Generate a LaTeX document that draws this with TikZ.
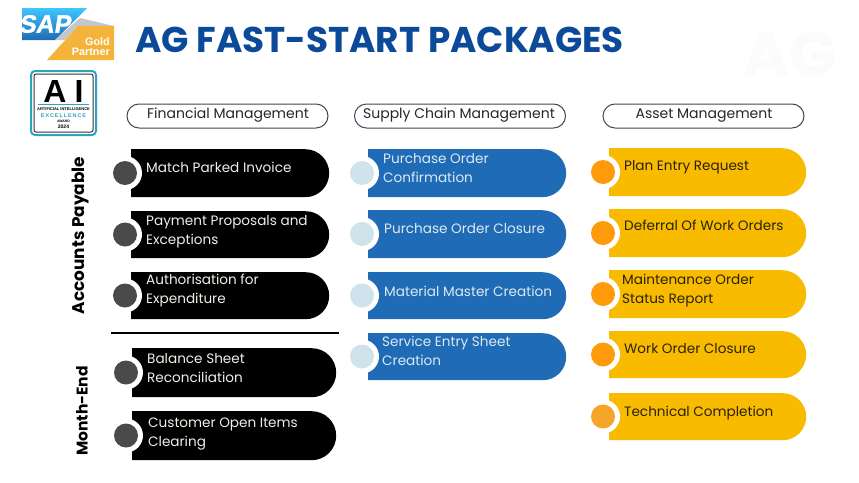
\documentclass[tikz,border=0pt]{standalone}
\usepackage{fontspec}
\usetikzlibrary{shapes.misc}
\setmainfont{Poppins}
\newfontfamily\arialf{Liberation Sans}
\newfontfamily\arialsp[LetterSpace=18]{Liberation Sans}
\newfontfamily\sapf[BoldFeatures={FakeBold=1.5}]{Liberation Sans}
\definecolor{titleblue}{HTML}{0B4A99}
\definecolor{pillblue}{HTML}{1F6BB5}
\definecolor{pillyellow}{HTML}{F8BB00}
\definecolor{dotgrey}{HTML}{4A4A4A}
\definecolor{dotpale}{HTML}{CFE3EC}
\definecolor{dotorange}{HTML}{FF9A0A}
\definecolor{dotlast}{HTML}{F5A62A}
\definecolor{lighttxt}{HTML}{F0EEE6}
\definecolor{bluetxt}{HTML}{DDE9F2}
\definecolor{yellowtxt}{HTML}{2A2208}
\definecolor{headedge}{HTML}{3C4A58}
\definecolor{badgecyan}{HTML}{2AA5C0}
\definecolor{sapgold}{HTML}{F4B43A}
\definecolor{sapgrey}{HTML}{C4C6CA}
\tikzset{
  pillshape/.style={rounded rectangle,rounded rectangle west arc=none,inner sep=0pt,anchor=north west},
  halo/.style={circle,fill=white,inner sep=0pt,minimum size=34pt},
  dotmark/.style={circle,inner sep=0pt,minimum size=24pt},
  itemtxt/.style={anchor=west,inner sep=0pt,align=left,font=\fontsize{13.6}{19}\selectfont},
  headbox/.style={rounded corners=12pt,draw=headedge,line width=1pt,fill=white,minimum height=24pt,inner sep=0pt},
  headtxt/.style={inner sep=0pt,font=\fontsize{14}{17}\selectfont,text=black!85},
  sidelabel/.style={rotate=90,inner sep=0pt,font=\bfseries\fontsize{15.5}{18}\selectfont},
  badgetxt/.style={inner sep=0pt,font=\arialf\bfseries\fontsize{4}{4.5}\selectfont},
}
\newcommand{\pill}[7]{% name, x1, y1, x2, y2, colour, dot
  \pgfmathsetmacro{\pw}{#4-#2}\pgfmathsetmacro{\ph}{#5-#3}
  \pgfmathsetmacro{\pm}{(#3+#5)/2}\pgfmathsetmacro{\pd}{#2-6}
  \node[pillshape,fill=#6,minimum width=\pw pt,minimum height=\ph pt] (#1) at (#2,#3) {};
  \node[halo] (#1h) at (\pd,\pm) {};
  \node[dotmark,fill=#7] (#1d) at (\pd,\pm) {};
}
\begin{document}
\begin{tikzpicture}[x=1pt,y=-1pt]
\fill[white] (0,0) rectangle (859,482);
\useasboundingbox (0,0) rectangle (859,482);

% watermark
\node[inner sep=0pt,text=black!1.5,font=\bfseries\fontsize{62}{62}\selectfont] (wm) at (790,55) {AG};

% SAP logo
\shade[top color=cyan!70!blue!75,bottom color=pillblue] (22,8) -- (87,8) -- (55,40) -- (22,40) -- cycle;
\fill[sapgrey] (55,40) -- (80,18) -- (114,26) -- (78,26) -- (65,40) -- cycle;
\fill[sapgold] (78,26) -- (114,26) -- (114,60) -- (47,60) -- cycle;
\node[inner sep=0pt,text=white,xslant=0.15,transform shape,font=\sapf\bfseries\fontsize{25}{25}\selectfont] (sap) at (46,24) {SAP};
\node[inner sep=0pt,anchor=east,text=white,font=\arialf\bfseries\fontsize{10.8}{11}\selectfont] (gold) at (110,41.5) {Gold};
\node[inner sep=0pt,anchor=east,text=white,font=\arialf\bfseries\fontsize{10.8}{11}\selectfont] (partner) at (110,52) {Partner};

% AI badge
\draw[badgecyan,line width=2pt,rounded corners=4pt] (31,71) rectangle (96,135);
\draw[black!80,line width=1pt,rounded corners=2pt] (34,74) rectangle (93,132);
\node[inner sep=0pt,font=\arialf\bfseries\fontsize{32}{32}\selectfont] (aia) at (55,91) {A};
\node[inner sep=0pt,font=\arialf\bfseries\fontsize{32}{32}\selectfont] (aii) at (79,91) {I};
\draw[badgecyan,line width=.7pt] (38,104.5) -- (89,104.5);
\node[badgetxt] (ai1) at (63.5,109) {ARTIFICIAL INTELLIGENCE};
\node[badgetxt,text=badgecyan,font=\arialsp\bfseries\fontsize{5.4}{6}\selectfont] (ai2) at (63.5,115.5) {EXCELLENCE};
\node[badgetxt,font=\arialf\bfseries\fontsize{3.4}{4}\selectfont] (ai3) at (63.5,121) {AWARD};
\node[badgetxt,font=\arialf\bfseries\fontsize{5}{6}\selectfont] (ai4) at (63.5,127) {2024};

% title
\node[anchor=west,inner sep=0pt,text=titleblue,font=\bfseries\fontsize{35.8}{40}\selectfont] (title) at (135,40) {AG FAST-START PACKAGES};

% headers
\node[headbox,minimum width=201pt] (h1) at (227.5,116) {};
\node[headtxt] (h1t) at (228,115.5) {Financial Management};
\node[headbox,minimum width=211pt] (h2) at (460,116) {};
\node[headtxt] (h2t) at (459,115) {Supply Chain Management};
\node[headbox,minimum width=201pt] (h3) at (703.5,116) {};
\node[headtxt] (h3t) at (704,115.5) {Asset Management};

% side labels
\node[sidelabel,font=\bfseries\fontsize{16.9}{18}\selectfont] (ap) at (80,235.5) {Accounts Payable};
\node[sidelabel] (me) at (82,411) {Month-End};
\coordinate (rulea) at (111,333);
\coordinate (ruleb) at (339,333);
\draw[black,line width=2pt] (rulea) -- (ruleb);

% black column
\pill{a1}{131}{149}{329}{197}{black}{dotgrey}
\pill{a2}{131}{211}{329}{258}{black}{dotgrey}
\pill{a3}{131}{272}{329}{319}{black}{dotgrey}
\pill{a4}{132}{348}{336}{397}{black}{dotgrey}
\pill{a5}{132}{411}{336}{460}{black}{dotgrey}
\node[itemtxt,text=lighttxt] (a1t) at (146,167) {Match Parked Invoice};
\node[itemtxt,text=lighttxt] (a2t) at (146,232) {Payment Proposals and\\Exceptions};
\node[itemtxt,text=lighttxt] (a3t) at (146,290.5) {Authorisation for\\Expenditure};
\node[itemtxt,text=lighttxt] (a4t) at (147,368.5) {Balance Sheet\\Reconciliation};
\node[itemtxt,text=lighttxt] (a5t) at (148,434.5) {Customer Open Items\\Clearing};

% blue column
\pill{b1}{368}{149}{566}{197}{pillblue}{dotpale}
\pill{b2}{368}{210}{566}{258}{pillblue}{dotpale}
\pill{b3}{368}{272}{566}{319}{pillblue}{dotpale}
\pill{b4}{368}{333}{566}{380}{pillblue}{dotpale}
\node[itemtxt,text=bluetxt] (b1t) at (383,168.5) {Purchase Order\\Confirmation};
\node[itemtxt,text=bluetxt] (b2t) at (384,229) {Purchase Order Closure};
\node[itemtxt,text=bluetxt] (b3t) at (384,291) {Material Master Creation};
\node[itemtxt,text=bluetxt] (b4t) at (382,350.5) {Service Entry Sheet\\Creation};

% yellow column
\pill{c1}{609}{148}{806}{196}{pillyellow}{dotorange}
\pill{c2}{609}{209}{806}{257}{pillyellow}{dotorange}
\pill{c3}{609}{270}{806}{318}{pillyellow}{dotorange}
\pill{c4}{609}{331}{806}{378}{pillyellow}{dotorange}
\pill{c5}{609}{393}{806}{440}{pillyellow}{dotlast}
\node[itemtxt,text=yellowtxt] (c1t) at (624,167.5) {Plan Entry Request};
\node[itemtxt,text=yellowtxt] (c2t) at (624,225) {Deferral Of Work Orders};
\node[itemtxt,text=yellowtxt] (c3t) at (622,290.5) {Maintenance Order\\Status Report};
\node[itemtxt,text=yellowtxt] (c4t) at (624,349) {Work Order Closure};
\node[itemtxt,text=yellowtxt] (c5t) at (624,413) {Technical Completion};
\end{tikzpicture}
\end{document}
